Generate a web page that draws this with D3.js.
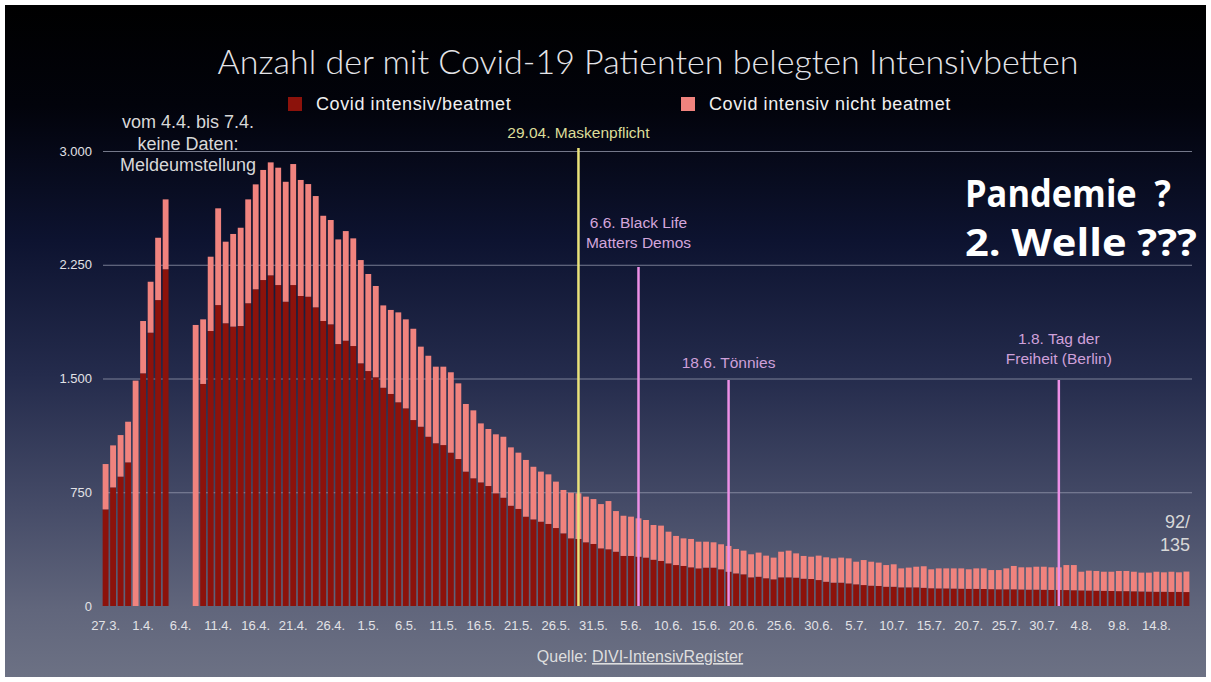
<!DOCTYPE html>
<html>
<head>
<meta charset="utf-8">
<script src="https://cdn.jsdelivr.net/npm/d3@7"></script>
<style>
  body { margin: 0; background: #ffffff; }
  svg { display: block; }
  .axis text { fill: #e2e2e6; font-family: "Liberation Sans", Arial, sans-serif; font-size: 13px; }
  .axis path { display: none; }
</style>
</head>
<body>
<script>
(function(){

//pseudo-global variables
var firstDay = new Date(2020, 2, 27),
    lastDay = new Date(2020, 7, 18);

//beatmet (dark) per day from 27.3. to 18.8., null = keine Daten
var beatmet = [
  637, 782, 853, 947, 0, 1534, 1802, 2017, 2220, null, null, null,
  0, 1464, 1813, 1984, 1864, 1842, 1846, 1996, 2088, 2149, 2180, 2116,
  2006, 2116, 2044, 2039, 1969, 1879, 1857, 1727, 1749, 1714, 1600,
  1549, 1508, 1439, 1398, 1343, 1303, 1226, 1182, 1116, 1073, 1061, 1011, 969, 886, 842,
  815, 791, 743, 714, 661, 640, 589, 571, 556, 541, 514, 479, 446, 442, 420, 409,
  380, 374, 358, 330, 330, 325, 319, 305, 297, 281, 270, 264, 255, 248, 253, 253,
  242, 226, 215, 209, 189, 193, 183, 176, 189, 189, 187, 180, 178, 171,
  160, 154, 154, 149, 143, 138, 134, 132, 127, 127, 123, 123, 123, 120, 117, 116,
  116, 115, 114, 113, 113, 112, 111, 110, 110, 110, 109, 108, 108, 107, 106,
  106, 105, 104, 103, 102, 101, 100, 99, 98, 98, 97, 96, 95, 94, 94, 93, 93, 92
];

//nicht beatmet (light) per day
var nichtBeatmet = [
  299, 277, 274, 268, 1486, 345, 336, 411, 461, null, null, null,
  1853, 426, 490, 638, 538, 611, 648, 685, 692, 726, 745, 774,
  791, 798, 765, 743, 734, 694, 688, 690, 723, 710, 681,
  640, 602, 543, 554, 593, 587, 602, 528, 534, 505, 517, 530, 499, 446, 448,
  389, 376, 389, 402, 385, 371, 374, 347, 330, 327, 306, 286, 301, 301, 301, 296,
  292, 318, 268, 265, 259, 253, 248, 229, 233, 209, 192, 182, 187, 176, 171, 167,
  165, 170, 161, 156, 152, 159, 149, 143, 169, 176, 160, 150, 147, 161,
  161, 160, 165, 165, 149, 165, 158, 154, 143, 148, 125, 130, 136, 142, 125, 132,
  132, 133, 134, 129, 135, 136, 126, 127, 138, 154, 146, 147, 151, 152, 149,
  149, 165, 166, 123, 131, 130, 126, 127, 133, 133, 129, 124, 125, 132, 128, 133, 129, 135
];

var seriesKeys = ["beatmet", "nichtBeatmet"];
var seriesNames = ["Covid intensiv/beatmet", "Covid intensiv nicht beatmet"];
var seriesColors = ["#8c120b", "#f0837e"];

var yTicks = [0, 750, 1500, 2250, 3000];

//events marked with vertical lines
var eventDates = ["29.5.", "6.6.", "18.6.", "1.8."];
var eventLabels = [
  ["29.04. Maskenpflicht"],
  ["6.6. Black Life", "Matters Demos"],
  ["18.6. Tönnies"],
  ["1.8. Tag der", "Freiheit (Berlin)"]
];
var eventTops = [3020, 2235, 1490, 1490];

window.onload = setChart();

function setChart(){
  var width = 1211,
      height = 682;

  var svg = d3.select("body")
    .append("svg")
    .attr("width", width)
    .attr("height", height);

  setBackground(svg);

  var fmtDay = d3.timeFormat("%-d.%-m.");
  var days = d3.timeDay.range(firstDay, d3.timeDay.offset(lastDay, 1)).map(fmtDay);

  //join the two series into one table for the stack
  var table = days.map(function(d, i){
    return { day: d, beatmet: beatmet[i], nichtBeatmet: nichtBeatmet[i] };
  });

  var x = d3.scaleBand()
    .domain(days)
    .range([101, 1191])
    .padding(0.22);

  var y = d3.scaleLinear()
    .domain([0, 3000])
    .range([606, 151]);

  //grid lines
  svg.append("g")
    .selectAll("line")
    .data(yTicks.filter(function(t){ return t > 0; }))
    .enter()
    .append("line")
    .attr("x1", 103)
    .attr("x2", 1192)
    .attr("y1", function(d){ return y(d) + 0.5; })
    .attr("y2", function(d){ return y(d) + 0.5; })
    .attr("stroke", "#9a9db0")
    .attr("stroke-opacity", 0.75)
    .attr("stroke-width", 1);

  //stacked bars
  var stack = d3.stack().keys(seriesKeys);
  var layers = stack(table.filter(function(d){ return d.beatmet !== null; }));

  svg.selectAll(".layer")
    .data(layers)
    .enter()
    .append("g")
    .attr("class", "layer")
    .attr("fill", function(d, i){ return seriesColors[i]; })
    .selectAll("rect")
    .data(function(d){ return d; })
    .enter()
    .append("rect")
    .attr("x", function(d){ return x(d.data.day); })
    .attr("width", x.bandwidth())
    .attr("y", function(d){ return y(d[1]); })
    .attr("height", function(d){ return y(d[0]) - y(d[1]); });

  setAxes(svg, x, y, days);
  setEvents(svg, x, y);
  setTexts(svg);
}

function setBackground(svg){
  var grad = svg.append("defs")
    .append("linearGradient")
    .attr("id", "bg")
    .attr("x1", 0).attr("y1", 0)
    .attr("x2", 0).attr("y2", 1);

  var stops = [
    [0, "#000000"], [0.15, "#02030b"], [0.35, "#0d1330"],
    [0.55, "#242b4c"], [0.75, "#464c68"], [0.9, "#61667c"], [1, "#6c7184"]
  ];
  grad.selectAll("stop")
    .data(stops)
    .enter()
    .append("stop")
    .attr("offset", function(d){ return d[0]; })
    .attr("stop-color", function(d){ return d[1]; });

  svg.append("rect")
    .attr("x", 5)
    .attr("y", 5)
    .attr("width", 1201)
    .attr("height", 672)
    .attr("fill", "url(#bg)");
}

function setAxes(svg, x, y, days){
  var de = d3.formatLocale({ decimal: ",", thousands: ".", grouping: [3], currency: ["", " €"] });

  svg.append("g")
    .attr("class", "axis")
    .attr("transform", "translate(0,606)")
    .call(d3.axisBottom(x)
      .tickValues(days.filter(function(d, i){ return i % 5 === 0; }))
      .tickSize(0)
      .tickPadding(15));

  svg.append("g")
    .attr("class", "axis")
    .attr("transform", "translate(100,0)")
    .call(d3.axisLeft(y)
      .tickValues(yTicks)
      .tickFormat(de.format(",d"))
      .tickSize(0)
      .tickPadding(8));
}

function setEvents(svg, x, y){
  var lineColors = ["#e9e27a", "#ec8fe6", "#ec8fe6", "#ec8fe6"];
  var textColors = ["#dcdd98", "#d4a6dc", "#cfa0da", "#cfa0da"];
  //space between last label line and the top of the line
  var labelGap = [10, 19, 12, 16];

  var ev = svg.selectAll(".event")
    .data(eventDates)
    .enter()
    .append("g")
    .attr("class", "event")
    .attr("transform", function(d){ return "translate(" + (x(d) + x.bandwidth() / 2) + ",0)"; });

  ev.append("line")
    .attr("y1", function(d, i){ return y(eventTops[i]); })
    .attr("y2", y(0))
    .attr("stroke", function(d, i){ return lineColors[i]; })
    .attr("stroke-width", 2.5);

  ev.append("text")
    .attr("text-anchor", "middle")
    .attr("font-family", "Liberation Sans, Arial, sans-serif")
    .attr("font-size", 15.5)
    .attr("fill", function(d, i){ return textColors[i]; })
    .attr("y", function(d, i){ return y(eventTops[i]) - labelGap[i] - (eventLabels[i].length - 1) * 20; })
    .selectAll("tspan")
    .data(function(d, i){ return eventLabels[i]; })
    .enter()
    .append("tspan")
    .attr("x", 0)
    .attr("dy", function(d, i){ return i === 0 ? 0 : 20; })
    .text(function(d){ return d; });
}

function setTexts(svg){
  var font = "Liberation Sans, Arial, sans-serif";

  //title
  svg.append("text")
    .attr("x", 648)
    .attr("y", 74)
    .attr("text-anchor", "middle")
    .attr("font-family", "Lato, Liberation Sans, sans-serif")
    .attr("font-weight", 300)
    .attr("font-size", 34)
    .attr("fill", "#e4e4e8")
    .text("Anzahl der mit Covid-19 Patienten belegten Intensivbetten");

  //legend
  var legendX = [288, 681];
  var legend = svg.selectAll(".legend")
    .data(seriesNames)
    .enter()
    .append("g")
    .attr("class", "legend")
    .attr("transform", function(d, i){ return "translate(" + legendX[i] + ",97)"; });

  legend.append("rect")
    .attr("width", 14)
    .attr("height", 14)
    .attr("fill", function(d, i){ return seriesColors[i]; });

  legend.append("text")
    .attr("x", 28)
    .attr("y", 13)
    .attr("font-family", font)
    .attr("font-size", 18)
    .attr("letter-spacing", 0.6)
    .attr("fill", "#f0f0f0")
    .text(function(d){ return d; });

  //note about missing data
  multiLine(svg, ["vom 4.4. bis 7.4.", "keine Daten:", "Meldeumstellung"], 188, 128, 21.5, 18, "#d8d8d8", "middle", font, 400);

  //big question, lines fitted to the widths seen in the picture
  var big = "Open Sans, DejaVu Sans, sans-serif";
  var q1 = [["Pandemie\u00a0\u00a0?", 965, 207, 206], ["2. Welle ???", 965, 256, 232]];
  svg.selectAll(".big")
    .data(q1)
    .enter()
    .append("text")
    .attr("class", "big")
    .attr("x", function(d){ return d[1]; })
    .attr("y", function(d){ return d[2]; })
    .attr("textLength", function(d){ return d[3]; })
    .attr("lengthAdjust", "spacingAndGlyphs")
    .attr("font-family", big)
    .attr("font-weight", 700)
    .attr("font-size", 38)
    .attr("fill", "#ffffff")
    .text(function(d){ return d[0]; });

  //last values
  multiLine(svg, ["92/", "135"], 1190, 528, 23, 18, "#d8d8d8", "end", font, 400);

  //source
  var q = svg.append("text")
    .attr("x", 640)
    .attr("y", 662)
    .attr("text-anchor", "middle")
    .attr("font-family", font)
    .attr("font-size", 16)
    .attr("fill", "#dedede");
  q.append("tspan").text("Quelle: ");
  q.append("tspan").attr("text-decoration", "underline").text("DIVI-IntensivRegister");
}

function multiLine(svg, lines, x, y, lh, size, color, anchor, font, weight){
  svg.append("text")
    .attr("x", x)
    .attr("y", y)
    .attr("text-anchor", anchor)
    .attr("font-family", font)
    .attr("font-weight", weight)
    .attr("font-size", size)
    .attr("fill", color)
    .selectAll("tspan")
    .data(lines)
    .enter()
    .append("tspan")
    .attr("x", x)
    .attr("dy", function(d, i){ return i === 0 ? 0 : lh; })
    .text(function(d){ return d; });
}

})();
</script>
</body>
</html>
